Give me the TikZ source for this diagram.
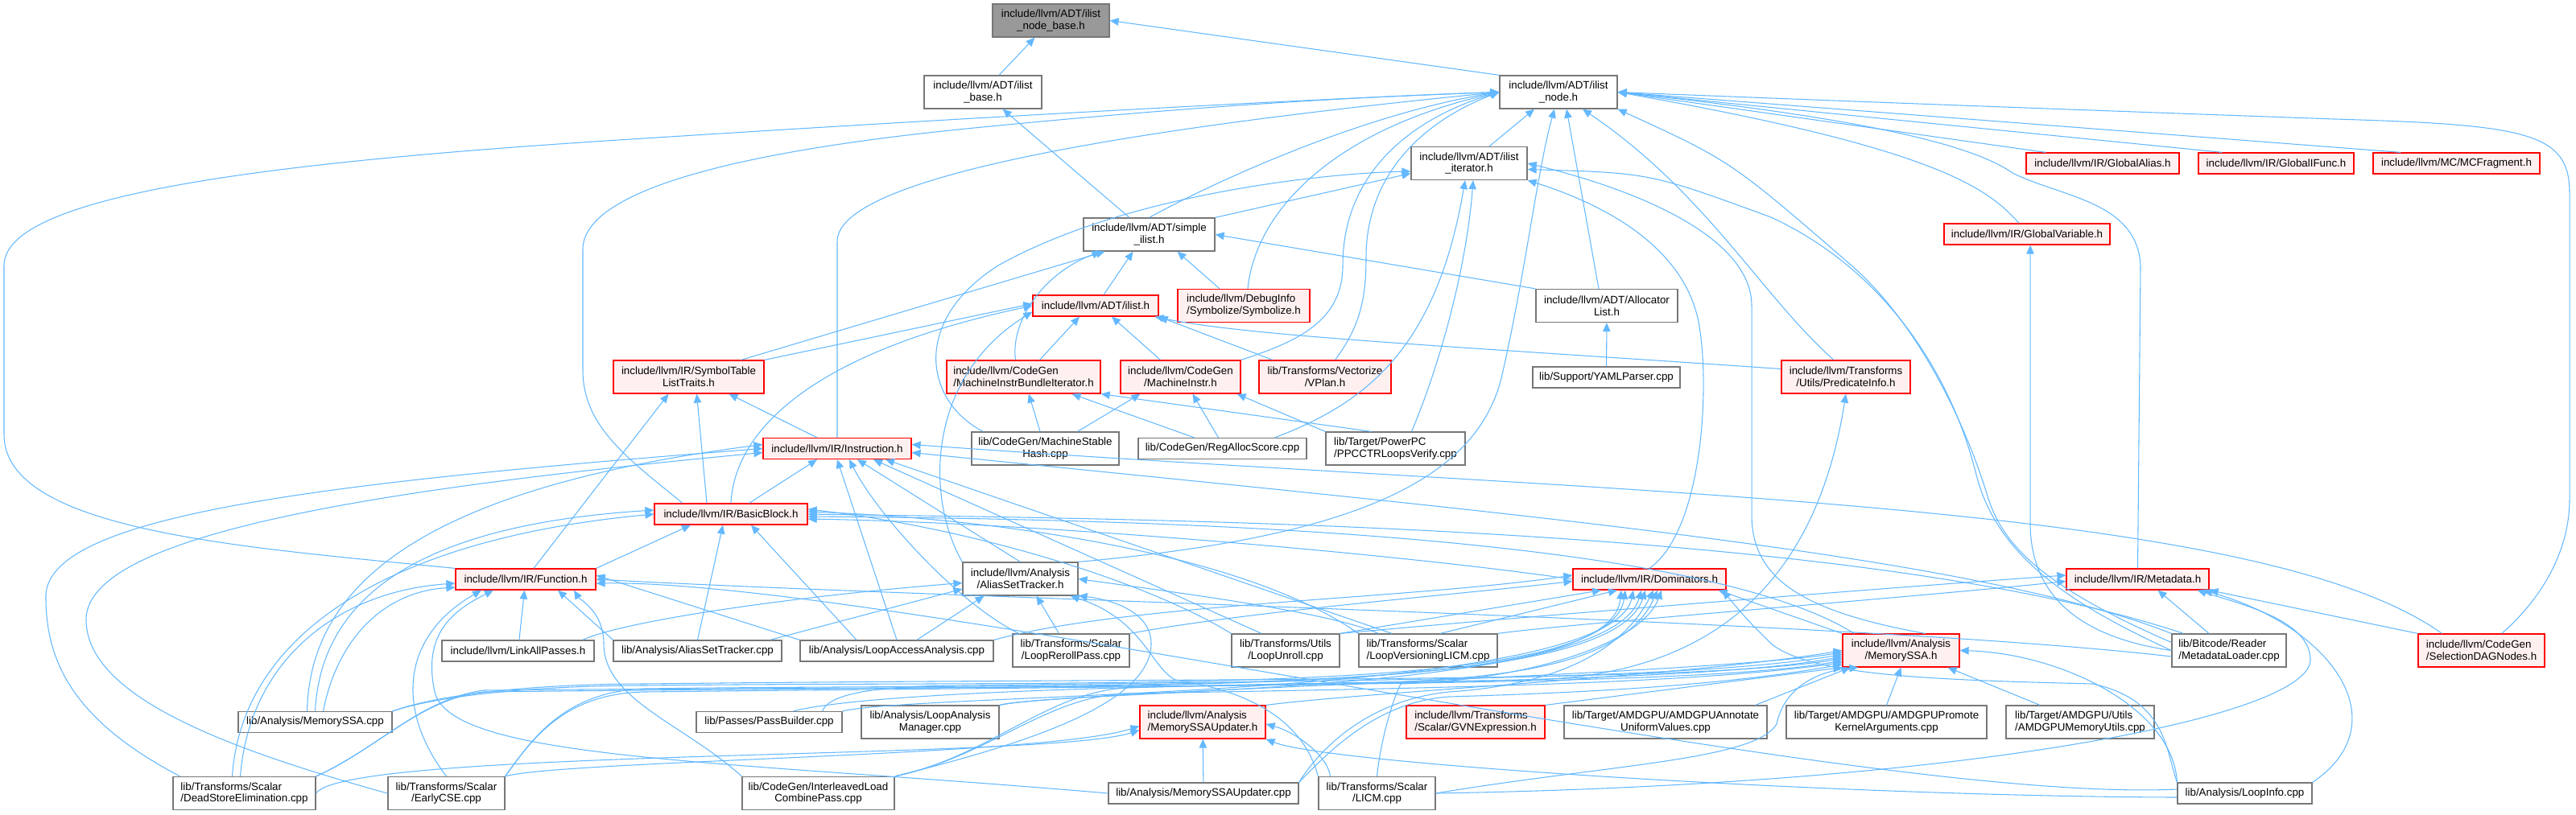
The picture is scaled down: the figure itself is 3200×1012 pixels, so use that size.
\documentclass[tikz,border=0pt]{standalone}
\usepackage{fontspec}
\newfontfamily\nf{Liberation Sans}
\usetikzlibrary{arrows.meta}
\definecolor{eblue}{HTML}{63B8FF}
\definecolor{gborder}{HTML}{777777}
\definecolor{rborder}{HTML}{FF0000}
\definecolor{rfill}{HTML}{FFF0F0}
\definecolor{rootfill}{HTML}{999999}
\newsavebox\lbA
\newsavebox\lbB
\newcommand\lft[2]{\sbox\lbA{#1}\sbox\lbB{#2}\ifdim\wd\lbA<\wd\lbB\makebox[\wd\lbB][l]{#1}\else#1\fi\\#2}
\newcommand\nfont{\nf\fontsize{7.6}{8.5}\selectfont}
\tikzset{
 nbox/.style={draw=gborder, fill=white, line width=0.7pt, inner sep=0pt, minimum height=0.82cm, align=center, font=\nfont},
 redbox/.style={nbox, draw=rborder, fill=rfill},
 oneline/.style={minimum height=0.52cm},
 bw/.style={minimum width=#1*0.02cm},
 lk/.style={draw=eblue, line width=0.6pt, -{Triangle[length=0.22cm,width=0.19cm]}},
}
\begin{document}
\begin{tikzpicture}[x=0.02cm,y=-0.02cm]
\useasboundingbox (0,0) rectangle (3200,1012);
% ---------- nodes ----------
\node[nbox,fill=rootfill,draw=gborder,bw=145] (nodebase) at (1305.5,25.5) {include/llvm/ADT/ilist\\\_node\_base.h};
\node[nbox,bw=146] (base) at (1221,114.5) {include/llvm/ADT/ilist\\\_base.h};
\node[nbox,bw=146] (node) at (1936,114.5) {include/llvm/ADT/ilist\\\_node.h};
\node[nbox,bw=144] (iter) at (1825,203) {include/llvm/ADT/ilist\\\_iterator.h};
\node[redbox,oneline,bw=190] (galias) at (2612,203) {include/llvm/IR/GlobalAlias.h};
\node[redbox,oneline,bw=193] (gifunc) at (2827.5,203) {include/llvm/IR/GlobalIFunc.h};
\node[redbox,oneline,bw=207] (mcfrag) at (3051.5,203) {include/llvm/MC/MCFragment.h};
\node[nbox,bw=163] (simple) at (1427.5,291.5) {include/llvm/ADT/simple\\\_ilist.h};
\node[redbox,oneline,bw=206] (gvar) at (2518,291) {include/llvm/IR/GlobalVariable.h};
\node[redbox,oneline,bw=156] (ilist) at (1361,380) {include/llvm/ADT/ilist.h};
\node[redbox,bw=164] (symbolize) at (1545,380) {\lft{include/llvm/DebugInfo}{/Symbolize/Symbolize.h}};
\node[nbox,bw=176] (alloc) at (1996,380) {include/llvm/ADT/Allocator\\List.h};
\node[redbox,bw=187] (symtab) at (855.5,468.5) {include/llvm/IR/SymbolTable\\ListTraits.h};
\node[redbox,bw=191] (mibi) at (1271.5,468.5) {\lft{include/llvm/CodeGen}{/MachineInstrBundleIterator.h}};
\node[redbox,bw=149] (minstr) at (1466.5,468.5) {\lft{include/llvm/CodeGen}{/MachineInstr.h}};
\node[redbox,bw=164] (vplan) at (1646,468.5) {\lft{lib/Transforms/Vectorize}{/VPlan.h}};
\node[nbox,oneline,bw=183] (yaml) at (1995.5,469) {lib/Support/YAMLParser.cpp};
\node[redbox,bw=160] (predinfo) at (2293,468.5) {\lft{include/llvm/Transforms}{/Utils/PredicateInfo.h}};
\node[redbox,oneline,bw=184] (instr) at (1040,557.5) {include/llvm/IR/Instruction.h};
\node[nbox,bw=183] (mshash) at (1298.5,557.5) {lib/CodeGen/MachineStable\\Hash.cpp};
\node[nbox,oneline,bw=209] (regalloc) at (1518.5,557.5) {lib/CodeGen/RegAllocScore.cpp};
\node[nbox,bw=173] (ppcctr) at (1733.5,557.5) {\lft{lib/Target/PowerPC}{/PPCCTRLoopsVerify.cpp}};
\node[redbox,oneline,bw=190] (bb) at (908,639) {include/llvm/IR/BasicBlock.h};
\node[redbox,oneline,bw=174] (func) at (653,720) {include/llvm/IR/Function.h};
\node[nbox,bw=143] (ast) at (1267.5,719.5) {\lft{include/llvm/Analysis}{/AliasSetTracker.h}};
\node[redbox,oneline,bw=190] (dom) at (2049,720) {include/llvm/IR/Dominators.h};
\node[redbox,oneline,bw=177] (meta) at (2655.5,720) {include/llvm/IR/Metadata.h};
\node[nbox,oneline,bw=189] (linkall) at (643.5,809) {include/llvm/LinkAllPasses.h};
\node[nbox,oneline,bw=209] (astcpp) at (866.5,809) {lib/Analysis/AliasSetTracker.cpp};
\node[nbox,oneline,bw=240] (laa) at (1114,809) {lib/Analysis/LoopAccessAnalysis.cpp};
\node[nbox,bw=145] (reroll) at (1330.5,808.5) {\lft{lib/Transforms/Scalar}{/LoopRerollPass.cpp}};
\node[nbox,bw=134] (unroll) at (1597,808.5) {\lft{lib/Transforms/Utils}{/LoopUnroll.cpp}};
\node[nbox,bw=172] (lvlicm) at (1774,808.5) {\lft{lib/Transforms/Scalar}{/LoopVersioningLICM.cpp}};
\node[redbox,bw=145] (mssa) at (2361.5,808.5) {\lft{include/llvm/Analysis}{/MemorySSA.h}};
\node[nbox,bw=142] (mdloader) at (2769,808.5) {\lft{lib/Bitcode/Reader}{/MetadataLoader.cpp}};
\node[redbox,bw=157] (sdag) at (3082.5,808.5) {\lft{include/llvm/CodeGen}{/SelectionDAGNodes.h}};
\node[nbox,oneline,bw=191] (mssacpp) at (391.5,897.5) {lib/Analysis/MemorySSA.cpp};
\node[nbox,oneline,bw=181] (passb) at (955.5,897.5) {lib/Passes/PassBuilder.cpp};
\node[nbox,bw=171] (lam) at (1155.5,897.5) {lib/Analysis/LoopAnalysis\\Manager.cpp};
\node[redbox,bw=156] (mssau) at (1494,897.5) {\lft{include/llvm/Analysis}{/MemorySSAUpdater.h}};
\node[redbox,bw=172] (gvn) at (1833,897.5) {\lft{include/llvm/Transforms}{/Scalar/GVNExpression.h}};
\node[nbox,bw=252] (amdann) at (2069,897.5) {lib/Target/AMDGPU/AMDGPUAnnotate\\UniformValues.cpp};
\node[nbox,bw=249] (amdprom) at (2343.5,897.5) {lib/Target/AMDGPU/AMDGPUPromote\\KernelArguments.cpp};
\node[nbox,bw=184] (amdmem) at (2584,897.5) {\lft{lib/Target/AMDGPU/Utils}{/AMDGPUMemoryUtils.cpp}};
\node[nbox,bw=177] (dse) at (303.5,986) {\lft{lib/Transforms/Scalar}{/DeadStoreElimination.cpp}};
\node[nbox,bw=145] (earlycse) at (554.5,986) {\lft{lib/Transforms/Scalar}{/EarlyCSE.cpp}};
\node[nbox,bw=189] (ilcp) at (1016.5,986) {lib/CodeGen/InterleavedLoad\\CombinePass.cpp};
\node[nbox,oneline,bw=236] (mssaucpp) at (1495,986) {lib/Analysis/MemorySSAUpdater.cpp};
\node[nbox,bw=145] (licm) at (1710.5,986) {\lft{lib/Transforms/Scalar}{/LICM.cpp}};
\node[nbox,oneline,bw=167] (loopinfo) at (2788.5,986) {lib/Analysis/LoopInfo.cpp};
% ---------- top edges ----------
\draw[lk] (base) -- (nodebase);
\draw[lk] (node.north west) -- (nodebase.east);
\draw[lk] (simple) -- (base);
\draw[lk] (simple.north) .. controls (1520,220) and (1700,140) .. (node.west);
\draw[lk] (simple.north east) -- ([yshift=-0.25cm]iter.west);
\draw[lk] ([xshift=0.5cm]iter.north) -- ([xshift=-0.6cm]node.south);
\draw[lk] ([xshift=-0.2cm]alloc.north) -- ([xshift=0.2cm]node.south);
\draw[lk] (alloc.north west) -- (simple.east);
\draw[lk] (yaml) -- (alloc);
\draw[lk] ([xshift=0.1cm]symbolize.north) .. controls (1560,260) and (1660,160) .. (node.west);
\draw[lk] ([xshift=-0.6cm]symbolize.north) -- ([xshift=0.7cm]simple.south);
\draw[lk] ([xshift=0.2cm]ilist.north) -- ([xshift=-0.4cm]simple.south);
\draw[lk] ([xshift=1.3cm]symtab.north) -- ([xshift=-1.1cm]simple.south);
\draw[lk] (symtab.north east) -- ([yshift=0.05cm]ilist.west);
\draw[lk] ([xshift=-0.2cm]mibi.north) .. controls (1255,400) and (1295,340) .. ([xshift=-1.2cm]simple.south);
\draw[lk] ([xshift=0.4cm]mibi.north) -- ([xshift=-0.4cm]ilist.south);
\draw[lk] ([xshift=-0.5cm]minstr.north) -- ([xshift=0.4cm]ilist.south);
\draw[lk] (minstr.north east) .. controls (1610,425) and (1668,400) .. (1668,330) .. controls (1668,210) and (1760,145) .. (node.west);
\draw[lk] ([xshift=0.25cm]vplan.north) .. controls (1690,405) and (1697,370) .. (1697,320) .. controls (1697,215) and (1770,150) .. (node.west);
\draw[lk] ([xshift=0.35cm]vplan.north west) -- (ilist.south east);
\draw[lk] ([yshift=0.2cm]predinfo.west) .. controls (1800,430) and (1550,418) .. ([xshift=-0.1cm]ilist.south east);
\draw[lk] ([xshift=-0.3cm]predinfo.north) .. controls (2190,370) and (2120,240) .. ([xshift=0.6cm]node.south);
\draw[lk] ([xshift=0.5cm]galias.north west) -- (node.east);
\draw[lk] ([xshift=0.6cm]gifunc.north west) -- (node.east);
\draw[lk] ([xshift=0.7cm]mcfrag.north west) -- (node.east);
\draw[lk] ([xshift=-0.2cm]gvar.north) .. controls (2470,235) and (2410,185) .. (node.east);
\draw[lk] (meta.north) -- (2659,330) .. controls (2655,250) and (2560,245) .. (2500,215) .. controls (2430,165) and (2200,135) .. (node.east);
\draw[lk] ([xshift=0.5cm]sdag.north) .. controls (3140,760) and (3192,700) .. (3192,620) -- (3192,240) .. controls (3192,165) and (3140,155) .. (2900,148) .. controls (2400,130) and (2200,122) .. (node.east);
\draw[lk] (instr.north) -- (1040,300) .. controls (1040,220) and (1400,160) .. (node.west);
\draw[lk] ([xshift=-1.2cm]bb.north) .. controls (780,570) and (724,530) .. (724,460) -- (724,310) .. controls (724,240) and (900,190) .. (1200,160) .. controls (1500,130) and (1700,120) .. (node.west);
\draw[lk] (func.north west) .. controls (300,680) and (5,660) .. (5,540) -- (5,330) .. controls (5,240) and (350,200) .. (800,172) .. controls (1300,140) and (1700,120) .. (node.west);
\draw[lk] (ast.north east) .. controls (1650,670) and (1830,610) .. (1865,470) .. controls (1895,340) and (1910,210) .. ([xshift=-0.1cm]node.south);
\draw[lk] ([xshift=0.6cm]mssa.north) .. controls (2240,760) and (2176,720) .. (2176,640) -- (2176,380) .. controls (2176,300) and (2050,240) .. (iter.east);
\draw[lk] (mdloader.west) .. controls (2570,750) and (2480,690) .. (2455,590) .. controls (2420,450) and (2330,330) .. (2200,270) .. controls (2050,215) .. ([yshift=-0.15cm]iter.east);
\draw[lk] ([yshift=0.2cm]mdloader.west) .. controls (2540,730) and (2490,680) .. (2470,620) .. controls (2440,520) and (2380,400) .. (2300,330) .. controls (2150,200) .. (node.south east);
\draw[lk] ([xshift=0.3cm]mshash.north west) .. controls (1150,500) and (1130,400) .. (1240,330) .. controls (1400,240) and (1650,215) .. ([yshift=-0.2cm]iter.west);
\draw[lk] ([xshift=-0.8cm]regalloc.north east) .. controls (1700,500) and (1785,430) .. ([xshift=-0.1cm]iter.south);
\draw[lk] ([xshift=0.4cm]ppcctr.north) .. controls (1790,450) and (1822,330) .. ([xshift=0.1cm]iter.south);
\draw[lk] (dom.north) .. controls (2115,660) and (2125,480) .. (2110,400) .. controls (2090,300) and (1980,250) .. (iter.south east);
% ---------- middle edges ----------
\draw[lk] (mshash) -- (mibi);
\draw[lk] ([xshift=0.8cm]mshash.north) -- ([xshift=-1cm]minstr.south);
\draw[lk] ([xshift=-0.7cm]regalloc.north) -- ([xshift=1.2cm]mibi.south);
\draw[lk] ([xshift=-0.1cm]regalloc.north) -- ([xshift=0.3cm]minstr.south);
\draw[lk] ([xshift=-0.6cm]ppcctr.north) -- (mibi.south east);
\draw[lk] (ppcctr.north west) -- ([xshift=-0.1cm]minstr.south east);
\draw[lk] ([xshift=-0.5cm]instr.north) -- ([xshift=1cm]symtab.south);
\draw[lk] ([xshift=-0.6cm]bb.north) -- ([xshift=0.2cm]symtab.south);
\draw[lk] ([xshift=0.2cm]func.north) -- ([xshift=-0.5cm]symtab.south);
\draw[lk] ([xshift=0.45cm]bb.north) -- ([xshift=-0.5cm]instr.south);
\draw[lk] (bb.north) .. controls (912,540) and (1000,440) .. (ilist.west);
\draw[lk] (func.north east) -- ([xshift=-1cm]bb.south);
\draw[lk] (ast.north) -- ([xshift=0.5cm]instr.south);
\draw[lk] (ast.north west) .. controls (1150,620) and (1150,470) .. ([yshift=-0.15cm]ilist.west);
% ---------- Instruction.h ----------
\draw[lk] (laa.north) -- (instr.south);
\draw[lk] ([xshift=-1.3cm]reroll.north) .. controls (1190,750) and (1090,640) .. ([xshift=0.3cm]instr.south);
\draw[lk] ([xshift=-0.6cm]unroll.north) -- ([xshift=0.9cm]instr.south);
\draw[lk] ([xshift=-0.9cm]lvlicm.north) -- ([xshift=1.2cm]instr.south);
\draw[lk] ([xshift=0.6cm]sdag.north west) .. controls (2800,620) and (2000,615) .. ([yshift=0.1cm]instr.east);
\draw[lk] (mdloader.north west) .. controls (2450,690) and (1900,640) .. ([yshift=-0.1cm]instr.east);
\draw[lk] ([xshift=-1.6cm]dse.north) .. controls (100,900) and (56,830) .. (57,740) .. controls (60,640) and (400,600) .. (instr.west);
\draw[lk] (earlycse.west) .. controls (260,925) and (107,860) .. (107,770) .. controls (107,660) and (500,605) .. ([yshift=-0.1cm]instr.west);
\draw[lk] ([xshift=-0.2cm]mssacpp.north) .. controls (385,740) and (500,610) .. ([yshift=0.1cm]instr.west);
% ---------- BasicBlock.h ----------
\draw[lk] (mssacpp.north) .. controls (400,720) and (560,650) .. ([yshift=0.1cm]bb.west);
\draw[lk] ([xshift=-0.3cm]dse.north) .. controls (300,790) and (480,670) .. (bb.west);
\draw[lk] ([xshift=-1cm]laa.north) -- ([xshift=0.5cm]bb.south);
\draw[lk] (astcpp.north) -- ([xshift=-0.2cm]bb.south);
\draw[lk] (unroll.north west) .. controls (1420,720) and (1200,655) .. ([yshift=0.12cm]bb.east);
\draw[lk] (lvlicm.north west) .. controls (1550,690) and (1250,645) .. ([yshift=0.06cm]bb.east);
\draw[lk] ([xshift=0.3cm]mdloader.north west) .. controls (2300,650) and (1400,645) .. (bb.east);
\draw[lk] ([xshift=0.3cm]mssa.north west) .. controls (2100,660) and (1400,645) .. ([yshift=-0.06cm]bb.east);
\draw[lk] (dom.west) .. controls (1750,690) and (1300,650) .. ([yshift=-0.12cm]bb.east);
% ---------- Function.h ----------
\draw[lk] ([xshift=-0.1cm]dse.north) .. controls (310,820) and (420,735) .. ([yshift=-0.1cm]func.west);
\draw[lk] ([xshift=0.2cm]mssacpp.north) .. controls (420,790) and (480,735) .. ([yshift=-0.2cm]func.west);
\draw[lk] (earlycse.north) .. controls (490,880) and (500,790) .. ([xshift=-1.1cm]func.south);
\draw[lk] (linkall) -- (func);
\draw[lk] (astcpp.north west) -- ([xshift=0.8cm]func.south);
\draw[lk] (mssaucpp.west) .. controls (900,945) and (560,945) .. (540,860) .. controls (525,790) and (560,760) .. ([xshift=-0.8cm]func.south);
\draw[lk] (ilcp.north west) .. controls (850,900) and (750,870) .. (750,800) .. controls (750,760) and (720,745) .. ([xshift=1.2cm]func.south);
\draw[lk] ([yshift=-0.15cm]mdloader.west) .. controls (2300,770) and (1200,745) .. (func.east);
\draw[lk] ([yshift=0.1cm]loopinfo.west) .. controls (2300,1000) and (1100,720) .. ([yshift=-0.1cm]func.east);
\draw[lk] (laa.north west) -- ([yshift=0.1cm]func.east);
% ---------- AliasSetTracker.h ----------
\draw[lk] ([xshift=-0.3cm]astcpp.north east) -- ([yshift=-0.25cm]ast.west);
\draw[lk] ([xshift=-0.3cm]linkall.north east) .. controls (780,770) and (1000,740) .. ([yshift=-0.1cm]ast.west);
\draw[lk] ([xshift=0.5cm]laa.north) -- ([xshift=-0.9cm]ast.south);
\draw[lk] ([xshift=-0.3cm]reroll.north) -- ([xshift=0.4cm]ast.south);
\draw[lk] ([xshift=0.5cm]lvlicm.north west) .. controls (1650,760) and (1450,735) .. (ast.east);
\draw[lk] (ilcp.north east) .. controls (1250,930) and (1430,880) .. (1430,800) .. controls (1430,760) and (1380,745) .. (ast.south east);
\draw[lk] (licm.north west) .. controls (1620,900) and (1560,860) .. (1460,845) .. controls (1430,830) and (1420,770) .. ([xshift=-0.2cm]ast.south east);
% ---------- Dominators.h ----------
\draw[lk] (laa.north east) .. controls (1400,750) and (1750,745) .. ([yshift=0.1cm]dom.west);
\draw[lk] (reroll.north east) .. controls (1550,760) and (1800,740) .. ([yshift=-0.05cm]dom.west);
\draw[lk] (unroll.north east) -- ([xshift=-1.2cm]dom.south);
\draw[lk] ([xshift=0.3cm]lvlicm.north) -- ([xshift=-0.8cm]dom.south);
\draw[lk] (mssa.north west) -- ([xshift=-0.2cm]dom.south east);
\draw[lk] (mssacpp.north east) .. controls (560,860) and (700,852) .. (800,852) .. controls (1400,845) and (2000,868) .. ([xshift=-0.6cm]dom.south);
\draw[lk] (dse.north east) .. controls (470,930) and (520,870) .. (600,858) .. controls (1400,850) and (2000,872) .. ([xshift=-0.7cm]dom.south);
\draw[lk] (earlycse.north east) .. controls (660,920) and (700,860) .. (800,856) .. controls (1400,848) and (2000,870) .. ([xshift=-0.1cm]dom.south);
\draw[lk] (passb.north east) .. controls (1150,860) and (2000,870) .. ([xshift=-0.4cm]dom.south);
\draw[lk] (lam.north east) .. controls (1350,855) and (2000,865) .. ([xshift=-0.2cm]dom.south);
\draw[lk] (ilcp.north east) .. controls (1230,940) and (1300,860) .. (1400,855) .. controls (1700,845) and (2000,868) .. ([xshift=0.2cm]dom.south);
\draw[lk] (mssaucpp.north east) .. controls (1640,930) and (1700,870) .. (1800,860) .. controls (1950,850) and (2020,800) .. ([xshift=0.1cm]dom.south);
\draw[lk] (licm.north) .. controls (1715,920) and (1730,870) .. (1740,850) .. controls (1900,845) and (2040,800) .. ([xshift=0.3cm]dom.south);
\draw[lk] (loopinfo.north west) .. controls (2690,930) and (2690,870) .. (2600,850) .. controls (2400,845) and (2250,840) .. (2200,800) .. controls (2170,770) .. ([xshift=-0.1cm]dom.south east);
% ---------- MemorySSA.h ----------
\draw[lk] (mssacpp.north east) .. controls (560,858) and (700,850) .. (800,850) .. controls (1500,842) and (2100,850) .. ([yshift=-0.2cm]mssa.west);
\draw[lk] (dse.north east) .. controls (470,930) and (520,870) .. (600,860) .. controls (1500,850) and (2100,855) .. ([yshift=-0.25cm]mssa.west);
\draw[lk] (earlycse.north east) .. controls (660,920) and (700,862) .. (800,860) .. controls (1500,852) and (2100,852) .. ([yshift=-0.15cm]mssa.west);
\draw[lk] ([xshift=-0.5cm]passb.north east) .. controls (1030,860) and (1100,852) .. (1200,852) .. controls (1700,845) and (2100,845) .. ([yshift=-0.1cm]mssa.west);
\draw[lk] (lam.north east) .. controls (1300,860) and (2100,840) .. ([yshift=-0.05cm]mssa.west);
\draw[lk] (ilcp.north east) .. controls (1230,940) and (1300,865) .. (1400,862) .. controls (1800,855) and (2100,850) .. ([yshift=-0.3cm]mssa.west);
\draw[lk] (mssau.north east) .. controls (1700,860) and (2100,840) .. (mssa.west);
\draw[lk] (mssaucpp.north east) .. controls (1650,935) and (1710,872) .. (1800,866) .. controls (2000,860) and (2150,850) .. ([yshift=-0.35cm]mssa.west);
\draw[lk] (gvn.north east) -- (mssa.south west);
\draw[lk] ([xshift=-0.3cm]amdann.north east) -- ([xshift=0.2cm]mssa.south west);
\draw[lk] (amdprom.north) -- (mssa.south);
\draw[lk] ([xshift=-1cm]amdmem.north) -- ([xshift=-0.3cm]mssa.south east);
\draw[lk] (licm.east) .. controls (2000,950) and (2180,945) .. (2207,900) .. controls (2215,860) and (2250,835) .. ([xshift=0.4cm]mssa.south west);
\draw[lk] (loopinfo.north west) .. controls (2700,880) and (2560,812) .. (mssa.east);
% ---------- MemorySSAUpdater.h ----------
\draw[lk] (mssaucpp) -- (mssau);
\draw[lk] (dse.east) .. controls (430,930) and (1300,945) .. ([yshift=-0.2cm]mssau.west);
\draw[lk] (earlycse.north east) .. controls (700,945) and (1300,940) .. ([yshift=-0.1cm]mssau.west);
\draw[lk] ([yshift=-0.1cm]loopinfo.west) .. controls (2300,990) and (1650,950) .. (mssau.south east);
\draw[lk] ([xshift=0.3cm]licm.north west) .. controls (1650,940) and (1610,910) .. ([yshift=-0.05cm]mssau.east);
% ---------- Metadata.h ----------
\draw[lk] ([xshift=-0.5cm]mdloader.north) -- ([xshift=0.5cm]meta.south);
\draw[lk] (sdag.north west) -- (meta.south east);
\draw[lk] (loopinfo.north east) .. controls (2980,900) and (2900,780) .. ([xshift=-0.15cm]meta.south east);
\draw[lk] (unroll.north east) .. controls (1850,770) and (2350,730) .. ([yshift=0.1cm]meta.west);
\draw[lk] (lvlicm.north east) .. controls (1950,775) and (2350,745) .. ([yshift=-0.05cm]meta.west);
\draw[lk] (licm.east) .. controls (2450,975) and (2870,890) .. (2870,820) .. controls (2870,770) and (2780,750) .. ([xshift=-0.3cm]meta.south east);
% ---------- others ----------
\draw[lk] ([xshift=0.6cm]passb.north) .. controls (1100,855) and (1600,850) .. (1900,845) .. controls (2150,840) and (2260,700) .. (predinfo.south);
\draw[lk] (mdloader.west) .. controls (2570,790) and (2522,730) .. (2522,650) -- ([xshift=0.08cm]gvar.south);
\end{tikzpicture}
\end{document}
